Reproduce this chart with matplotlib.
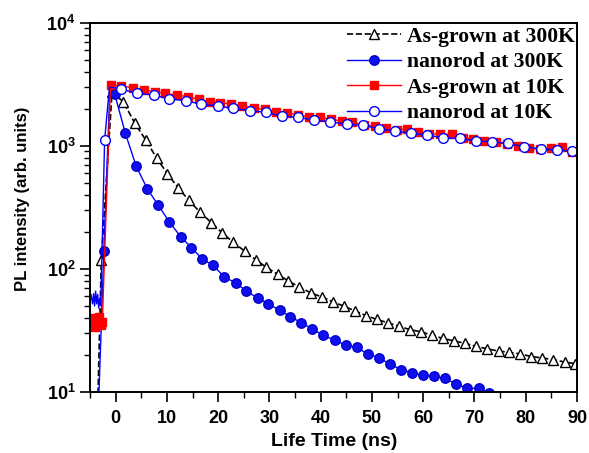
import matplotlib
matplotlib.use('Agg')
import matplotlib.pyplot as plt
import numpy as np

# ================================
# data
# ================================
# As-grown at 300K (black dashed, open triangles)
t_ag300 = [-3.6, -2.8, -0.7, 1.5, 3.7, 5.9, 8.0, 10.1, 12.2, 14.3, 16.5, 18.7,
           20.8, 22.9, 25.2, 27.3, 29.4, 31.6, 33.7, 35.8, 38.1, 40.3, 42.4,
           44.5, 46.7, 48.8, 51.0, 53.2, 55.3, 57.4, 59.6, 61.8, 63.9, 66.0,
           68.2, 70.3, 72.5, 74.7, 76.8, 78.9, 81.1, 83.2, 85.4, 87.6, 89.6]
i_ag300 = [5, 118, 2716, 2280, 1538, 1110, 795, 593, 456, 360, 288, 237,
           196, 165, 139, 119, 103, 90.5, 79.8, 71.4, 63.8, 59, 54,
           49.8, 45.6, 41.8, 38.8, 36.4, 34.2, 32.1, 30.8, 28.8, 27.2, 26,
           24.8, 23.5, 22.4, 21.5, 21, 20.4, 19.4, 18.9, 18.3, 17.5, 17]

# nanorod at 300K (blue, filled circles)
t_nr300 = [-3.5, -2.3, -1.1, -0.2, 1.9, 4.0, 6.2, 8.3, 10.5, 12.8, 14.8, 16.9,
           19.0, 21.2, 23.4, 25.5, 27.7, 29.8, 32.0, 34.1, 36.2, 38.4, 40.5,
           42.8, 44.9, 47.0, 49.3, 51.4, 53.5, 55.7, 57.9, 60.0, 62.2, 64.3,
           66.4, 68.6, 70.8, 72.9, 75.0, 77.1]
i_nr300 = [5, 139, 3050, 2650, 1262, 684, 445, 330, 240, 180, 149, 120,
           107, 86, 77, 66, 58, 52, 46, 41, 36.5, 32.5, 28.8,
           26.3, 24, 23, 20.3, 19, 16.8, 15.2, 14.3, 13.7, 13.4, 12.9,
           11.6, 10.7, 10.7, 9.8, 9.0, 8.5]

# As-grown at 10K (red, filled squares)
t_ag10 = [-5.0, -4.7, -4.4, -4.1, -3.8, -3.5, -3.2, -2.9, -2.6, -1.0, 1.1, 3.4,
          5.5, 7.6, 9.6, 12.0, 14.1, 16.2, 18.4, 20.4, 22.6, 24.7, 26.9, 29.1,
          31.2, 33.5, 35.5, 37.7, 39.8, 42.0, 44.1, 46.2, 48.4, 50.6, 52.7,
          54.8, 56.8, 59.0, 61.1, 63.3, 65.6, 67.7, 69.8, 71.9, 74.2, 76.3,
          78.5, 80.7, 82.8, 85.0, 87.0, 89.0]
i_ag10 = [38, 35, 40, 34, 39, 36, 41, 35, 37, 3110, 3056, 2965,
          2840, 2750, 2666, 2584, 2502, 2390, 2280, 2239, 2183, 2113, 2014, 1977,
          1888, 1854, 1778, 1722, 1702, 1641, 1589, 1560, 1472, 1455, 1400,
          1343, 1368, 1300, 1245, 1245, 1239, 1161, 1127, 1099, 1067, 1033,
          1000, 953, 935, 964, 982, 893]

# nanorod at 10K (blue, open circles)
t_nr10 = [-5.0, -4.8, -4.5, -4.3, -4.1, -3.9, -3.7, -3.5, -3.3, -3.1, -2.9,
          -2.15, -1.2, 1.0, 4.2, 7.4, 10.5, 13.7, 16.7, 19.9, 22.9, 26.2, 29.3,
          32.4, 35.6, 38.7, 41.9, 45.1, 48.2, 51.4, 54.5, 57.6, 60.8, 63.9,
          67.1, 70.3, 73.4, 76.5, 79.7, 82.9, 86.1, 89.1]
i_nr10 = [55, 62, 52, 63, 50, 66, 52, 62, 48, 58, 50,
          1110, 3000, 2890, 2668, 2584, 2400, 2323, 2173, 2113, 2013, 1927, 1870,
          1743, 1702, 1618, 1567, 1493, 1466, 1375, 1318, 1262, 1222, 1161,
          1148, 1091, 1079, 1047, 982, 946, 923, 906]

labels = ['As-grown at 300K', 'nanorod at 300K', 'As-grown at 10K', 'nanorod at 10K']
yticks = [10, 100, 1000, 10000]
ytick_labels = [r'$\mathbf{10^{1}}$', r'$\mathbf{10^{2}}$', r'$\mathbf{10^{3}}$', r'$\mathbf{10^{4}}$']

plt.rcParams['mathtext.fontset'] = 'custom'
plt.rcParams['mathtext.bf'] = 'Liberation Sans:bold'
plt.rcParams['mathtext.rm'] = 'Liberation Sans:bold'

W, H = 589, 453
fig = plt.figure(figsize=(W / 100, H / 100), dpi=100)
ax = fig.add_axes([0.1528, 0.1347, 0.8268, 0.8152])

ax.plot(t_ag300, i_ag300, color='black', linestyle='--', linewidth=1.2,
        marker='^', markersize=7.5, markerfacecolor='white', markeredgecolor='black',
        markeredgewidth=1.0, markevery=list(range(1, len(t_ag300))), label=labels[0])
ax.plot(t_nr300, i_nr300, color='blue', linewidth=1.0,
        marker='o', markersize=6.8, markerfacecolor='#1010ee', markeredgecolor='#0000cc',
        markevery=[i for i in range(len(t_nr300)) if i not in (0, 2)], label=labels[1])
ax.plot(t_ag10, i_ag10, color='red', linewidth=1.0,
        marker='s', markersize=6, markerfacecolor='red', markeredgecolor='red',
        label=labels[2])
ax.plot(t_nr10, i_nr10, color='blue', linewidth=1.0,
        marker='o', markersize=7, markerfacecolor='white', markeredgecolor='blue',
        markeredgewidth=1.0,
        markevery=[i for i in range(11, len(t_nr10)) if i != 12], label=labels[3])

ax.set_yscale('log')
ax.set_xlim(-5, 90)
ax.set_ylim(10, 10000)
ax.set_xticks(np.arange(0, 91, 10))
ax.set_xticks(np.arange(-5, 91, 5), minor=True)
ax.set_yticks(yticks)
ax.set_yticklabels(ytick_labels)

for lab in ax.get_xticklabels():
    lab.set_fontfamily('Liberation Sans')
    lab.set_fontweight('bold')
ax.tick_params(axis='both', which='major', labelsize=13, length=7, width=1.2,
               direction='out', top=False, right=False)
ax.tick_params(axis='both', which='minor', length=4.5, width=1.0,
               direction='out', top=False, right=False)
ax.tick_params(axis='x', pad=6)

for s in ax.spines.values():
    s.set_linewidth(1.4)

# axis titles placed at the pixel centres seen in the reference
fig.text(334 / W, 1 - 441 / H, 'Life Time (ns)', fontsize=14, fontweight='bold',
         family='Liberation Sans', ha='center', va='center')
fig.text(23 / W, 1 - 199 / H, 'PL intensity (arb. units)', fontsize=12,
         fontweight='bold', family='Liberation Sans', rotation=90,
         ha='center', va='center')

ax.legend(loc='upper right', bbox_to_anchor=(1.013, 1.013), frameon=False,
          handlelength=2.5,
          prop={'family': 'Liberation Serif', 'weight': 'bold', 'size': 15.6},
          borderaxespad=0, labelspacing=0.25, handletextpad=0.25)

plt.savefig('out.png', dpi=100)
